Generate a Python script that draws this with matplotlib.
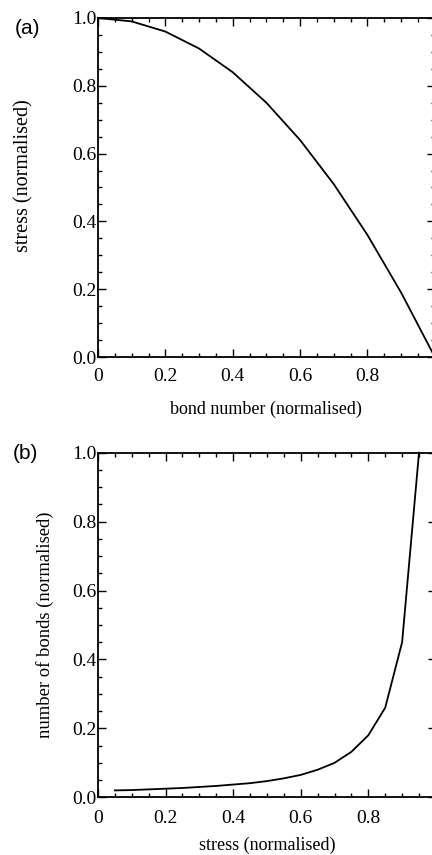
import matplotlib
matplotlib.use("Agg")
import matplotlib.pyplot as plt
from matplotlib.ticker import MultipleLocator, FixedLocator

# Panel (a): stress vs bond number
bond_number = [0.0, 0.1, 0.2, 0.3, 0.4, 0.5, 0.6, 0.7, 0.8, 0.9, 1.0]
stress_a = [1.0, 0.99, 0.96, 0.91, 0.84, 0.75, 0.64, 0.51, 0.36, 0.19, 0.0]

# Panel (b): number of bonds vs stress
stress_b = [0.05, 0.1, 0.15, 0.2, 0.25, 0.3, 0.35, 0.4, 0.45, 0.5, 0.55, 0.6,
            0.65, 0.7, 0.75, 0.8, 0.85, 0.9, 0.95]
n_bonds = [0.020, 0.021, 0.023, 0.025, 0.027, 0.030, 0.033, 0.037, 0.041, 0.047,
           0.055, 0.065, 0.080, 0.100, 0.132, 0.180, 0.260, 0.450, 1.0]

x_ticks = [0, 0.2, 0.4, 0.6, 0.8]
x_ticklabels = ["0", "0.2", "0.4", "0.6", "0.8"]
y_ticks = [0.0, 0.2, 0.4, 0.6, 0.8, 1.0]
y_ticklabels = ["0.0", "0.2", "0.4", "0.6", "0.8", "1.0"]

serif = "Liberation Serif"
sans = "Liberation Sans"

fig = plt.figure(figsize=(4.32, 8.55), dpi=100)
W, H = 432.0, 855.0

def make_ax(left, top, bottom, unit):
    return fig.add_axes([left / W, 1 - bottom / H, unit / W, (bottom - top) / H])

ax1 = make_ax(98, 18, 357, 336.8)
ax2 = make_ax(98, 452.7, 797.3, 337.9)

def style(ax, xlabel, ylabel, xl_y, yl_x, yl_y, yl_size, xpad):
    ax.set_xlim(0, 1)
    ax.set_ylim(0, 1)
    ax.xaxis.set_major_locator(FixedLocator(x_ticks))
    ax.set_xticklabels(x_ticklabels, fontfamily=serif, fontsize=14)
    ax.xaxis.set_minor_locator(MultipleLocator(0.05))
    ax.yaxis.set_major_locator(FixedLocator(y_ticks))
    ax.set_yticklabels(y_ticklabels, fontfamily=serif, fontsize=14)
    ax.yaxis.set_minor_locator(MultipleLocator(0.05))
    ax.tick_params(which="both", direction="in", top=True, right=True, color="black")
    ax.tick_params(which="major", length=6, width=1.0)
    ax.tick_params(which="minor", length=3, width=1.0)
    ax.tick_params(axis="x", which="major", pad=xpad)
    ax.tick_params(axis="y", which="major", pad=1)
    for s in ax.spines.values():
        s.set_linewidth(1.3)
    ax.set_xlabel(xlabel, fontfamily=serif, fontsize=13)
    ax.xaxis.set_label_coords(0.5, xl_y)
    ax.xaxis.label.set_va("center")
    ax.set_ylabel(ylabel, fontfamily=serif, fontsize=yl_size)
    ax.yaxis.set_label_coords(yl_x, yl_y)
    ax.yaxis.label.set_va("center")

ax1.plot(bond_number, stress_a, color="black", lw=1.3, clip_on=False)
style(ax1, "bond number (normalised)", "stress (normalised)", -0.155, -0.22, 0.534, 14.5, 8)

ax2.plot(stress_b, n_bonds, color="black", lw=1.3, clip_on=False)
style(ax2, "stress (normalised)", "number of bonds (normalised)", -0.138, -0.157, 0.5, 13.4, 9)

fig.text(15 / W, 1 - 29 / H, "(a)", fontfamily=sans, fontsize=15, va="center", ha="left")
fig.text(13 / W, 1 - 453 / H, "(b)", fontfamily=sans, fontsize=15, va="center", ha="left")

fig.savefig("out.png", dpi=100)
